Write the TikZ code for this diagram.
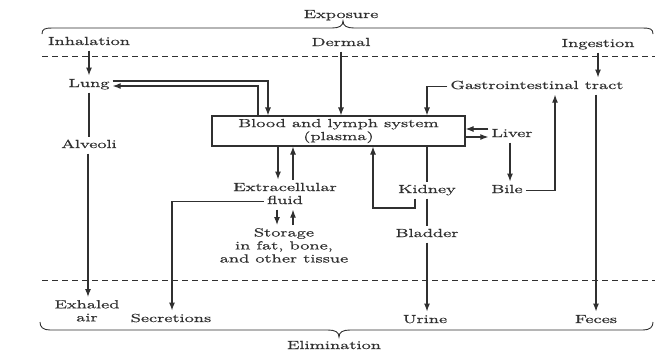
\documentclass[tikz,border=0pt]{standalone}
\usepackage{fontspec}
\setmainfont{lmroman12-regular.otf}[FakeStretch=1.6,FakeBold=0.8]
\usetikzlibrary{arrows.meta}
\definecolor{ink}{RGB}{48,48,48}
\begin{document}
\begin{tikzpicture}[x=1pt,y=-1pt,
  every node/.style={font=\fontsize{11.7}{13}\selectfont, text=ink, inner sep=3pt},
  lbl/.style={anchor=base, text height=8.3pt, text depth=2.5pt},
  ml/.style={anchor=north, align=center},
  box/.style={draw=ink, line width=1.1pt, minimum width=253pt, minimum height=30pt, align=center, inner sep=0pt},
  conn/.style={draw=ink, line width=1.1pt},
  arr/.style={conn, -{Latex[length=8pt,width=6pt]}},
  dsh/.style={draw=ink, line width=0.8pt, dash pattern=on 6pt off 4pt},
  brace/.style={draw=ink, line width=0.9pt}]
\useasboundingbox[fill=white] (0,0) rectangle (655,354);

% braces and dashed lines
\draw[brace] (42,34) .. controls (42,29) and (45,28) .. (52,28) -- (332,28)
  .. controls (339,28) and (343,26) .. (343,21)
  .. controls (343,26) and (347,28) .. (354,28) -- (643,28)
  .. controls (650,28) and (653,29) .. (653,34);
\draw[brace] (40,322) .. controls (40,327) and (43,330) .. (50,330) -- (328,330)
  .. controls (335,330) and (339,332) .. (339,337)
  .. controls (339,332) and (343,330) .. (350,330) -- (643,330)
  .. controls (650,330) and (653,327) .. (653,322);
\draw[dsh] (42,56) -- (655,56);
\draw[dsh] (42,280) -- (655,280);

% labels
\node[lbl] (expo) at (341,18) {Exposure};
\node[lbl] (elim) at (334,349) {Elimination};
\node[lbl] (inh) at (89,45) {Inhalation};
\node[lbl] (derm) at (341,46) {Dermal};
\node[lbl] (ing) at (598,47) {Ingestion};
\node[lbl] (lung) at (89,87) {Lung};
\node[lbl] (gi) at (537,89) {Gastrointestinal tract};
\node[box] (blood) at (338.5,131) {Blood and lymph system\\(plasma)};
\node[lbl] (liver) at (512,137) {Liver};
\node[lbl] (alv) at (89,148) {Alveoli};
\node[lbl] (ecf1) at (285,191) {Extracellular};
\node[lbl] (ecf2) at (285,204) {fluid};
\node[lbl] (kid) at (427,193) {Kidney};
\node[lbl] (bile) at (507,193) {Bile};
\node[ml] (stor) at (284,225) {Storage\\in fat, bone,\\and other tissue};
\node[lbl] (blad) at (427,237) {Bladder};
\node[ml] (exh) at (87,297) {Exhaled\\air};
\node[lbl] (sec) at (171,322) {Secretions};
\node[lbl] (urine) at (425,323) {Urine};
\node[lbl] (feces) at (596,323) {Feces};

% connectors
\draw[arr] (inh) -- (lung);
\draw[arr] (lung.east |- 0,81) -| (blood.north -| 268,0);
\draw[arr] (blood.north -| 258,0) |- (lung.east |- 0,86);
\draw[conn] (lung) -- (alv);
\draw[arr] (alv.south -| 88,0) -- (exh.north -| 88,0);
\draw[arr] (derm) -- (derm |- blood.north);
\draw[arr] (ing) -- (ing |- gi.north);
\draw[arr] (gi.west) -| (blood.north -| 427,0);
\draw[arr] (liver.west |- 0,129) -- (blood.east |- 0,129);
\draw[arr] (blood.east |- 0,137) -- (liver.west |- 0,137);
\draw[arr] (liver.south -| 510,0) -- (bile.north -| 510,0);
\draw[arr] (bile.east) -| (gi.south -| 555,0);
\draw[arr] (gi.south -| 596,0) -- (feces.north -| 596,0);
\draw[arr] (blood.south -| 278,0) -- (ecf1.north -| 278,0);
\draw[arr] (ecf1.north -| 293,0) -- (blood.south -| 293,0);
\draw[arr] (ecf2.south -| 277,0) -- (stor.north -| 277,0);
\draw[arr] (stor.north -| 293,0) -- (ecf2.south -| 293,0);
\draw[arr] (ecf2.west) -| (sec.north -| 172,0);
\draw[arr] (kid.south -| 415,0) -- (415,208) -- (373,208) -- (blood.south -| 373,0);
\draw[conn] (blood.south -| 427,0) -- (kid.north -| 427,0);
\draw[conn] (kid.south -| 427,0) -- (blad.north -| 427,0);
\draw[arr] (blad.south -| 427,0) -- (urine.north -| 427,0);
\end{tikzpicture}
\end{document}
